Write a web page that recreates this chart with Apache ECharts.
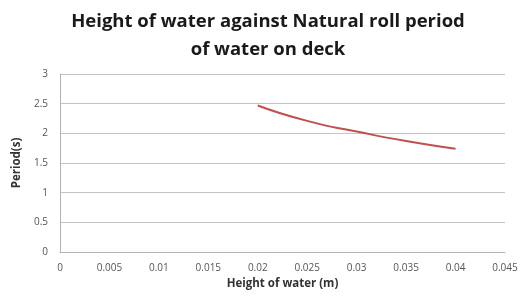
<!DOCTYPE html>
<html>
<head>
<meta charset="utf-8">
<script src="https://cdn.jsdelivr.net/npm/echarts@6/dist/echarts.min.js"></script>
<style>
  html, body { margin: 0; padding: 0; background: #fff; }
  #chart { width: 526px; height: 299px; }
</style>
</head>
<body>
<div id="chart"></div>
<script>
// values
var heights = [0.02, 0.025, 0.03, 0.035, 0.04];
var periods = [2.47, 2.21, 2.03, 1.87, 1.74];

var myChart = echarts.init(document.getElementById('chart'));

var option = {
    animation: false,
    title: {
        text: 'Height of water against Natural roll period\nof water on deck',
        left: 263,
        top: 3,
        textAlign: 'center',
        textStyle: {
            fontFamily: 'Open Sans',
            fontWeight: 'bold',
            fontSize: 18.5,
            lineHeight: 28,
            color: '#1a1a1a'
        }
    },
    grid: {
        left: 60,
        right: 21,
        top: 74,
        bottom: 47
    },
    xAxis: {
        type: 'value',
        min: 0,
        max: 0.045,
        interval: 0.005,
        name: 'Height of water (m)',
        nameLocation: 'middle',
        nameGap: 22,
        nameTextStyle: { fontFamily: 'Open Sans', fontWeight: 'bold', fontSize: 11.5, color: '#333' },
        axisLine: { lineStyle: { color: '#b3b3b3' } },
        axisTick: { show: false },
        splitLine: { show: false },
        axisLabel: { fontFamily: 'Open Sans', fontSize: 10, color: '#555', margin: 11 }
    },
    yAxis: {
        type: 'value',
        min: 0,
        max: 3,
        interval: 0.5,
        name: 'Period(s)',
        nameLocation: 'middle',
        nameGap: 32,
        nameTextStyle: { fontFamily: 'Open Sans', fontWeight: 'bold', fontSize: 11.5, color: '#333' },
        axisLine: { show: true, lineStyle: { color: '#b3b3b3' } },
        axisTick: { show: false },
        splitLine: { lineStyle: { color: '#c4c4c4' } },
        axisLabel: { fontFamily: 'Open Sans', fontSize: 10, color: '#555', margin: 12 }
    },
    series: [
        {
            type: 'line',
            smooth: 0.6,
            symbol: 'none',
            data: heights.map(function (h, i) { return [h, periods[i]]; }),
            lineStyle: { color: '#c0504d', width: 2 }
        }
    ]
};

myChart.setOption(option);
</script>
</body>
</html>
